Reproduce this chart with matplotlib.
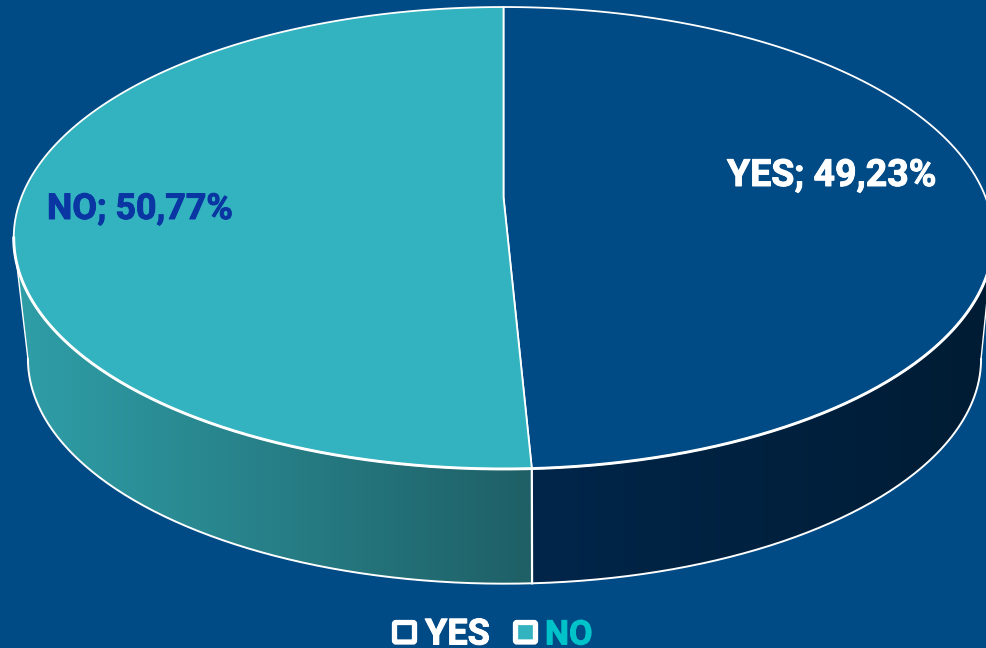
import numpy as np
import matplotlib
matplotlib.use("Agg")
import matplotlib.pyplot as plt
import matplotlib.patheffects as pe
from matplotlib.colors import LinearSegmentedColormap
from matplotlib.patches import FancyBboxPatch, Polygon

plt.rcParams["font.family"] = ["Roboto", "DejaVu Sans"]

# data
labels = ["YES", "NO"]
shares = [49.23, 50.77]
label_text = ["YES; 49,23%", "NO; 50,77%"]

BG = "#004a85"
TEAL = "#33b3bf"
W, H = 987, 648

# perspective disc: apex is not the ellipse centre
K = 0.1775


def project(theta, x0, y0, bx, ay):
    # theta clockwise from 12 o'clock, radians
    x, y = np.sin(theta), np.cos(theta)
    w = 1 + K * y
    return np.column_stack([x0 + bx * x / w, y0 - ay * y / w])


def top(theta):
    return project(theta, 503.5, 197, 482, 223.7)


def bottom(theta):
    return project(theta, 504.5, 319, 469, 217.7)


fig = plt.figure(figsize=(W / 100, H / 100), dpi=100, facecolor=BG)
ax = fig.add_axes([0, 0, 1, 1])
ax.set_xlim(0, W)
ax.set_ylim(H, 0)
ax.axis("off")

split = 2 * np.pi * shares[0] / sum(shares)
right_edge = np.pi - np.arccos(K)
left_edge = np.pi + np.arccos(K)

# side walls with a horizontal gradient
walls = [
    (right_edge, split, ["#001c34", "#00264a"]),
    (split, left_edge, ["#1f5f66", "#2f9fa8"]),
]
for a, b, cols in walls:
    t = np.linspace(a, b, 200)
    pts = np.vstack([top(t), bottom(t)[::-1]])
    poly = Polygon(pts, closed=True, fc="none", ec="none", transform=ax.transData)
    ax.add_patch(poly)
    cmap = LinearSegmentedColormap.from_list("wall", cols)
    x1, x2 = pts[:, 0].min(), pts[:, 0].max()
    y1, y2 = pts[:, 1].min(), pts[:, 1].max()
    grad = np.linspace(1, 0, 256).reshape(1, -1)
    im = ax.imshow(grad, extent=[x1, x2, y2, y1], cmap=cmap, aspect="auto", zorder=1)
    im.set_clip_path(poly)
ax.set_xlim(0, W)
ax.set_ylim(H, 0)

# wall outlines
t = np.linspace(right_edge, left_edge, 300)
ax.plot(*bottom(t).T, color="white", lw=1.4, zorder=3)
for e in (right_edge, left_edge):
    seg = np.vstack([top(np.array([e])), bottom(np.array([e]))])
    ax.plot(*seg.T, color="white", lw=1.0, zorder=3)
seg = np.vstack([top(np.array([split])), bottom(np.array([split]))])
ax.plot(*seg.T, color="white", lw=1.6, zorder=3)

# top slices
apex = np.array([[503.5, 197]])
t0 = np.linspace(0, split, 300)
t1 = np.linspace(split, 2 * np.pi, 300)
ax.add_patch(Polygon(np.vstack([apex, top(t0)]), closed=True, fc=BG, ec="white", lw=1.3, zorder=4))
ax.add_patch(Polygon(np.vstack([apex, top(t1)]), closed=True, fc=TEAL, ec="white", lw=1.3, zorder=4))
ax.plot(*top(t).T, color="white", lw=2.1, zorder=5)

# data labels, stroked a little since Roboto Bold is lighter than the original face
ax.text(727, 186, label_text[0], color="white", fontsize=27, fontweight="bold", va="baseline", zorder=6,
        path_effects=[pe.withStroke(linewidth=0.7, foreground="white")])
ax.text(47, 219, label_text[1], color="#0a36a3", fontsize=25.8, fontweight="bold", va="baseline", zorder=6,
        path_effects=[pe.withStroke(linewidth=0.7, foreground="#0a36a3")])

# legend
for x, col in [(394.5, BG), (515.5, TEAL)]:
    ax.add_patch(FancyBboxPatch((x, 622.5), 20, 19.5, boxstyle="round,pad=0,rounding_size=1.5",
                                fc=col, ec="white", lw=3.8, zorder=6))
ax.text(425, 644.5, labels[0], color="white", fontsize=26, fontweight="bold", va="baseline", zorder=6,
        path_effects=[pe.withStroke(linewidth=0.7, foreground="white")])
ax.text(545, 644.5, labels[1], color="#00c3c9", fontsize=24.5, fontweight="bold", va="baseline", zorder=6,
        path_effects=[pe.withStroke(linewidth=0.7, foreground="#00c3c9")])

fig.savefig("out.png", dpi=100, facecolor=BG)
